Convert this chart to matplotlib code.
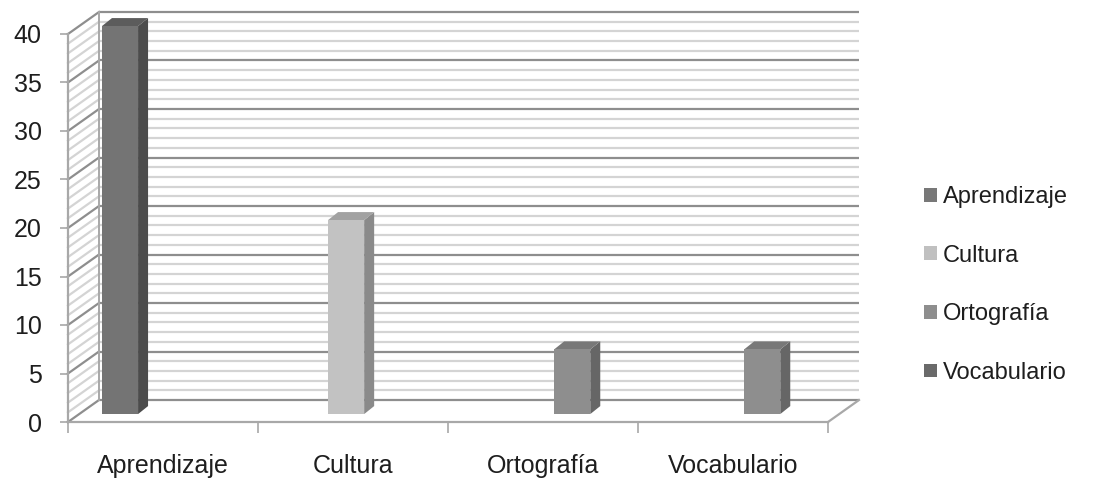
import matplotlib
matplotlib.use("Agg")
import matplotlib.pyplot as plt
from matplotlib.patches import Polygon, Patch

# ---- data ----
categories = ["Aprendizaje", "Cultura", "Ortografía", "Vocabulario"]
series_names = ["Aprendizaje", "Cultura", "Ortografía", "Vocabulario"]
aprendizaje = [40, 0, 0, 0]
cultura = [0, 20, 0, 0]
ortografia = [0, 0, 6.67, 6.67]
vocabulario = [0, 0, 0, 0]
series_values = [aprendizaje, cultura, ortografia, vocabulario]
y_ticks = list(range(0, 41, 5))

# ---- style ----
front_col = ["#747474", "#c2c2c2", "#8e8e8e", "#6a6a6a"]
side_col = ["#4c4c4c", "#8a8a8a", "#666666", "#4a4a4a"]
top_col = ["#5c5c5c", "#a2a2a2", "#787878", "#585858"]
legend_col = ["#787878", "#c0c0c0", "#8e8e8e", "#6a6a6a"]
major_c = "#8e8e8e"
minor_c = "#d4d4d4"
edge_c = "#a8a8a8"
text_c = "#1e1e1e"

plt.rcParams['font.family'] = ['Liberation Sans', 'DejaVu Sans']
W, H = 1094, 482
fig = plt.figure(figsize=(W / 100, H / 100), dpi=100)
L, B, AW, AH = 68, 60, 760, 388
ax = fig.add_axes([L / W, B / H, AW / W, AH / H])
ymax = 40
ax.set_xlim(0, 4)
ax.set_ylim(0, ymax)

# pixel -> data conversions for the pseudo-3D depth
px_x = AW / 4
px_y = AH / ymax
DX, DY = 31, 22          # wall depth in pixels
ddx, ddy = DX / px_x, DY / px_y

# back wall + side wall gridlines
for v in range(0, ymax + 1):
    major = (v % 5 == 0)
    c = major_c if major else minor_c
    lw = 1.6
    z = 2 if major else 1
    ax.plot([ddx, 4 + ddx], [v + ddy, v + ddy], color=c, lw=lw, clip_on=False, zorder=z,
            solid_capstyle='butt')
    ax.plot([0, ddx], [v, v + ddy], color=c, lw=lw, clip_on=False, zorder=z)

# back-wall left edge
ax.plot([ddx, ddx], [ddy, ymax + ddy], color=edge_c, lw=1.4, clip_on=False, zorder=2)
# floor right edge
ax.plot([4, 4 + ddx], [0, ddy], color=edge_c, lw=1.6, clip_on=False, zorder=2)

# bars
f0 = 0.36
sx, sy = f0 * ddx, f0 * ddy
bw = 0.19
bdx, bdy = 10 / px_x, 8 / px_y
nser = len(series_values)
for s, vals in enumerate(series_values):
    off = 0.5 + (s - (nser - 1) / 2) * bw
    xs = [i + off + sx for i in range(len(categories))]
    hv = [v for v in vals]
    for x, v in zip(xs, hv):
        if v <= 0:
            continue
        x0, x1 = x - bw / 2, x + bw / 2
        y0, y1 = sy, sy + v
        ax.add_patch(Polygon([(x1, y0), (x1 + bdx, y0 + bdy), (x1 + bdx, y1 + bdy), (x1, y1)],
                             closed=True, facecolor=side_col[s], edgecolor='none',
                             zorder=5, clip_on=False))
        ax.add_patch(Polygon([(x0, y1), (x1, y1), (x1 + bdx, y1 + bdy), (x0 + bdx, y1 + bdy)],
                             closed=True, facecolor=top_col[s], edgecolor='none',
                             zorder=5, clip_on=False))
    ax.bar([x for x, v in zip(xs, hv) if v > 0], [v for v in hv if v > 0], width=bw,
           bottom=sy, color=front_col[s], zorder=6, clip_on=False)

# axes styling
for sp in ["top", "right"]:
    ax.spines[sp].set_visible(False)
for sp in ["left", "bottom"]:
    ax.spines[sp].set_color(edge_c)
    ax.spines[sp].set_linewidth(1.6)
    ax.spines[sp].set_zorder(3)
ax.set_yticks(y_ticks)
ax.set_yticklabels([str(t) for t in y_ticks])
ax.tick_params(axis='y', length=6, width=1.2, color=edge_c, pad=13, labelsize=18,
               labelcolor=text_c)
ax.set_xticks(range(0, 5))
ax.set_xticklabels([""] * 5)
ax.tick_params(axis='x', which='major', length=8, width=1.2, color=edge_c)
ax.set_xticks([i + 0.5 for i in range(4)], minor=True)
ax.set_xticklabels(categories, minor=True)
ax.tick_params(axis='x', which='minor', length=0, pad=23, labelsize=18,
               labelcolor=text_c)
ax.patch.set_alpha(0)

handles = [Patch(facecolor=c, edgecolor='none') for c in legend_col]
fig.legend(handles, series_names, loc='center left',
           bbox_to_anchor=(903 / W, 1 - 285 / H), frameon=False, fontsize=17,
           handlelength=0.52, handleheight=0.52, handletextpad=0.27,
           labelspacing=1.55, labelcolor=text_c)

fig.savefig("out.png", dpi=100)
